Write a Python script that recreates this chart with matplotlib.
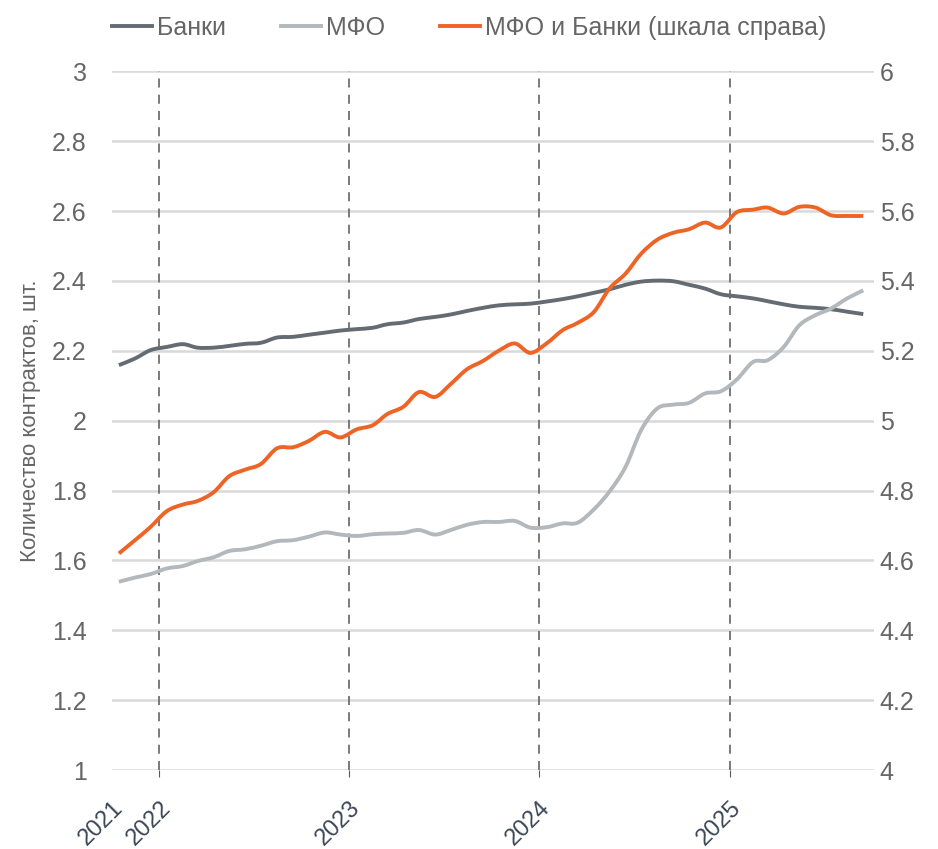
import matplotlib
matplotlib.use("Agg")
import matplotlib.pyplot as plt
import matplotlib.dates as mdates
import numpy as np
import pandas as pd
from matplotlib.path import Path
from matplotlib.patches import PathPatch
from matplotlib.lines import Line2D

# monthly points (mid-month), Oct 2021 .. Sep 2025
months = pd.date_range("2021-10-01", periods=48, freq="MS") + pd.Timedelta(days=14)

banks = [2.159, 2.178, 2.202, 2.211, 2.219, 2.209, 2.209, 2.214, 2.220, 2.223,
         2.238, 2.240, 2.246, 2.252, 2.258, 2.262, 2.266, 2.276, 2.281, 2.291,
         2.297, 2.304, 2.314, 2.323, 2.330, 2.333, 2.335, 2.341, 2.348, 2.356,
         2.366, 2.376, 2.389, 2.398, 2.401, 2.399, 2.389, 2.378, 2.362, 2.356,
         2.350, 2.342, 2.333, 2.326, 2.323, 2.319, 2.312, 2.305]

mfo = [1.539, 1.551, 1.561, 1.577, 1.584, 1.598, 1.609, 1.627, 1.632, 1.642,
       1.655, 1.658, 1.668, 1.680, 1.674, 1.670, 1.675, 1.677, 1.679, 1.687,
       1.674, 1.687, 1.702, 1.710, 1.710, 1.713, 1.694, 1.695, 1.706, 1.708,
       1.746, 1.797, 1.868, 1.973, 2.035, 2.046, 2.051, 2.078, 2.084, 2.118,
       2.168, 2.173, 2.211, 2.273, 2.302, 2.321, 2.350, 2.373]

total = [4.620, 4.658, 4.696, 4.741, 4.760, 4.770, 4.795, 4.841, 4.860, 4.876,
         4.921, 4.924, 4.942, 4.968, 4.952, 4.975, 4.987, 5.019, 5.040, 5.082,
         5.068, 5.105, 5.147, 5.171, 5.200, 5.221, 5.194, 5.221, 5.259, 5.280,
         5.311, 5.378, 5.421, 5.478, 5.518, 5.538, 5.548, 5.567, 5.553, 5.597,
         5.604, 5.610, 5.593, 5.612, 5.610, 5.588, 5.586, 5.586]

year_ticks = ["2021-10-01", "2022-01-01", "2023-01-01", "2024-01-01", "2025-01-01"]
year_labels = ["2021", "2022", "2023", "2024", "2025"]

plt.rcParams["font.family"] = ["Liberation Sans", "DejaVu Sans"]

c_banks = "#656b73"
c_mfo = "#b3b8bd"
c_total = "#ee6326"
c_text = "#666666"
lw = 2.8


def smooth_line(axis, x, y, color):
    # smoothed line (like a spreadsheet "smooth line") via cubic Bezier segments
    x = mdates.date2num(x)
    y = np.asarray(y, dtype=float)
    px = np.concatenate([[x[0]], x, [x[-1]]])
    py = np.concatenate([[y[0]], y, [y[-1]]])
    verts = [(x[0], y[0])]
    codes = [Path.MOVETO]
    for i in range(1, len(px) - 2):
        c1 = (px[i] + (px[i + 1] - px[i - 1]) / 6, py[i] + (py[i + 1] - py[i - 1]) / 6)
        c2 = (px[i + 1] - (px[i + 2] - px[i]) / 6, py[i + 1] - (py[i + 2] - py[i]) / 6)
        verts += [c1, c2, (px[i + 1], py[i + 1])]
        codes += [Path.CURVE4] * 3
    axis.add_patch(PathPatch(Path(verts, codes), fill=False, edgecolor=color,
                             lw=lw, capstyle="butt", joinstyle="round", zorder=3))


fig = plt.figure(figsize=(9.38, 8.49), dpi=100)
ax = fig.add_axes([0.119, 0.093, 0.813, 0.823])
ax2 = ax.twinx()

smooth_line(ax, months, banks, c_banks)
smooth_line(ax, months, mfo, c_mfo)
smooth_line(ax2, months, total, c_total)

ax.set_ylim(1, 3)
ax2.set_ylim(4, 6)
ax.set_yticks([1 + 0.2 * i for i in range(11)])
ax2.set_yticks([4 + 0.2 * i for i in range(11)])
ax.yaxis.set_major_formatter(plt.FuncFormatter(lambda v, p: f"{v:g}"))
ax2.yaxis.set_major_formatter(plt.FuncFormatter(lambda v, p: f"{v:g}"))

xt = pd.to_datetime(year_ticks)
ax.set_xlim(pd.Timestamp("2021-10-01"), pd.Timestamp("2025-10-06"))
ax.set_xticks(xt)
ax.set_xticklabels(year_labels, rotation=45, ha="right", rotation_mode="anchor",
                   fontsize=17, color="#3b4656")
ax.tick_params(axis="x", length=5, color="#595959", pad=14)
ax.xaxis.get_major_ticks()[0].tick1line.set_visible(False)

ax.grid(axis="y", color="#d9d9d9", lw=1.8)
ax.set_axisbelow(True)
for d in xt[1:]:
    ax.axvline(d, color="#707070", lw=1.3, ls=(0, (5, 4)), zorder=1)

ax.tick_params(axis="y", length=0, labelsize=18, labelcolor=c_text, pad=18)
ax2.tick_params(axis="y", length=0, labelsize=18, labelcolor=c_text, pad=4)
for a in (ax, ax2):
    for s in a.spines.values():
        s.set_visible(False)

ax.set_ylabel("Количество контрактов, шт.", fontsize=16, color=c_text, labelpad=8)

handles = [Line2D([], [], color=c_banks, lw=lw),
           Line2D([], [], color=c_mfo, lw=lw),
           Line2D([], [], color=c_total, lw=lw)]
labels = ["Банки", "МФО", "МФО и Банки (шкала справа)"]
fig.legend(handles, labels, loc="upper center", bbox_to_anchor=(0.5, 1.008),
           ncol=3, frameon=False, fontsize=18, labelcolor=c_text,
           handlelength=1.6, handletextpad=0.2, columnspacing=2.2)

plt.savefig("out.png", dpi=100)
